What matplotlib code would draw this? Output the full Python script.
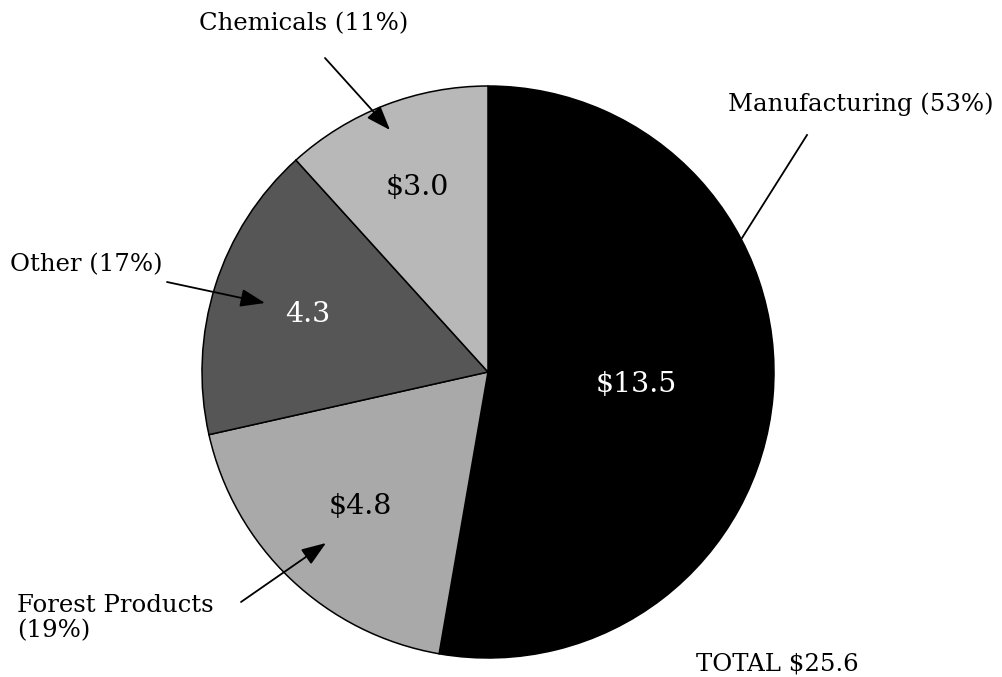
"""
Pie chart: breakdown of a $25.6 total by sector.
"""

import numpy as np
import matplotlib.pyplot as plt

W, H = 1003, 677

sectors = ["Manufacturing", "Forest Products", "Other", "Chemicals"]
values = [13.5, 4.8, 4.3, 3.0]
shares = [53, 19, 17, 11]
value_labels = ["$13.5", "$4.8", "4.3", "$3.0"]
total_label = "TOTAL $25.6"

colors = ["#000000", "#a9a9a9", "#565656", "#b8b8b8"]
label_colors = ["white", "black", "white", "black"]
label_radius = [0.52, 0.65, 0.66, 0.69]  # fraction of pie radius

LABEL_FONT = "DejaVu Serif"
VALUE_FONT = "DejaVu Serif"


def py(y):
    # pixel row -> data y (axes spans the figure in pixel units)
    return H - y


fig = plt.figure(figsize=(W / 100, H / 100), dpi=100)
ax = fig.add_axes([0, 0, 1, 1])

cx, cy, r = 488, py(372), 286
wedges, _ = ax.pie(values, startangle=90, counterclock=False,
                   center=(cx, cy), radius=r, colors=colors,
                   wedgeprops=dict(edgecolor="black", linewidth=1.1))
ax.set_xlim(0, W)
ax.set_ylim(0, H)
ax.set_aspect("equal")
ax.axis("off")

# value labels inside the wedges
for w, txt, c, f in zip(wedges, value_labels, label_colors, label_radius):
    mid = np.deg2rad((w.theta1 + w.theta2) / 2)
    ax.text(cx + f * r * np.cos(mid), cy + f * r * np.sin(mid), txt,
            ha="center", va="center", color=c, fontsize=20.5,
            family=VALUE_FONT)

text_kw = dict(fontsize=17.6, family=LABEL_FONT, color="black")
arrow_kw = dict(arrowstyle="-|>,head_length=1.5,head_width=0.55",
                color="black", lw=1.3, shrinkA=0, shrinkB=0)

# Chemicals
ax.text(304, py(24), f"{sectors[3]} ({shares[3]}%)", ha="center", va="center", **text_kw)
ax.annotate("", xy=(390, py(130)), xytext=(325, py(58)), arrowprops=arrow_kw)

# Manufacturing (plain leader line)
ax.text(861, py(104), f"{sectors[0]} ({shares[0]}%)", ha="center", va="center", **text_kw)
ax.plot([807, 742], [py(135), py(238)], color="black", lw=1.3)

# Other
ax.text(10, py(265), f"{sectors[2]} ({shares[2]}%)", ha="left", va="center", **text_kw)
ax.annotate("", xy=(265, py(303)), xytext=(167, py(282)), arrowprops=arrow_kw)

# Forest Products
ax.text(17, py(618), f"{sectors[1]}\n({shares[1]}%)", ha="left", va="center",
        linespacing=1.1, **text_kw)
ax.annotate("", xy=(326, py(543)), xytext=(241, py(602)), arrowprops=arrow_kw)

ax.text(777, py(664), total_label, ha="center", va="center", **text_kw)

fig.savefig("out.png", dpi=100)
